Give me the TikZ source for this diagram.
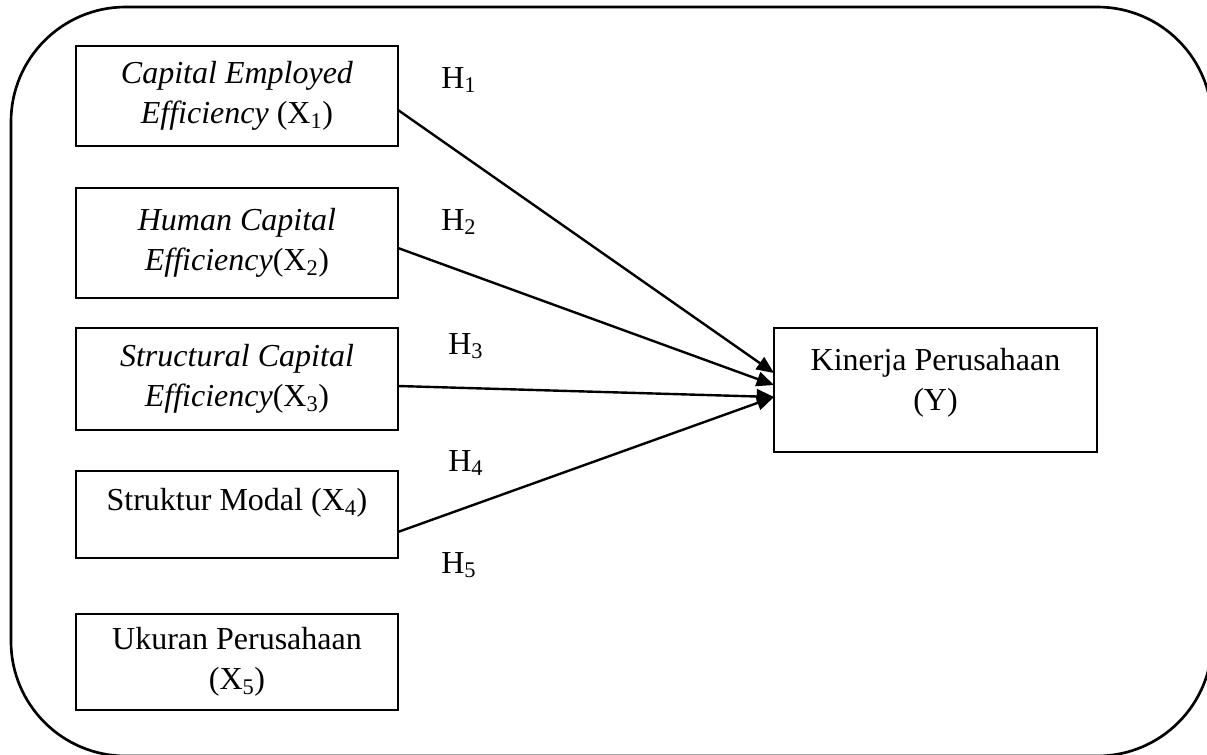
\documentclass[tikz,border=0pt]{standalone}
\usepackage{fontspec}
\setmainfont{Liberation Serif}
\usetikzlibrary{arrows.meta}

\tikzset{every picture/.style={line width=2pt}}
\tikzset{
  varbox/.style={draw, rectangle, inner sep=0pt, outer sep=0pt, minimum width=241.5pt, align=center, font=\fontsize{24}{30}\selectfont},
  boxtext/.style={inner sep=0pt, align=center, font=\fontsize{24}{30}\selectfont},
  hyplabel/.style={anchor=base west, inner sep=0pt, font=\fontsize{24}{30}\selectfont},
  effect/.style={line width=1.8pt, -{Triangle[length=13pt,width=11pt]}}
}

\begin{document}
\begin{tikzpicture}[x=0.75pt,y=0.75pt,yscale=-1,xscale=1]
\useasboundingbox (0,0) rectangle (1207,754);

%Shape: Rounded Rect
\draw [rounded corners=86pt] (11,7) rectangle (1212,756);

%Shape: Rectangle
\node [varbox, minimum height=75pt] (x1) at (237,96) {\textit{Capital Employed}\\\textit{Efficiency} (X\textsubscript{1})};
%Shape: Rectangle
\node [varbox, minimum height=82.5pt] (x2) at (237,243) {\textit{Human Capital}\\\textit{Efficiency}(X\textsubscript{2})};
%Shape: Rectangle
\node [varbox, minimum height=76.5pt] (x3) at (237,379) {\textit{Structural Capital}\\\textit{Efficiency}(X\textsubscript{3})};
%Shape: Rectangle
\node [varbox, minimum height=65.25pt] (x4) at (237,514.5) {};
\node [boxtext] (x4text) at ([yshift=-9pt]x4.center) {Struktur Modal (X\textsubscript{4})};
%Shape: Rectangle
\node [varbox, minimum height=72pt] (x5) at (237,662) {Ukuran Perusahaan\\(X\textsubscript{5})};
%Shape: Rectangle
\node [varbox, minimum width=242.25pt, minimum height=93pt] (y) at (935.5,390) {};
\node [boxtext] (ytext) at ([yshift=-5.5pt]y.center) {Kinerja Perusahaan\\(Y)};

%Straight Lines
\draw [effect] ([yshift=10.5pt]x1.east) -- ([yshift=-12.75pt]y.west);
\draw [effect] ([yshift=3.75pt]x2.east) -- ([yshift=-3.75pt]y.west);
\draw [effect] ([yshift=5.25pt]x3.east) -- ([yshift=5.25pt]y.west);
\draw [effect] ([yshift=13.1pt]x4.east) -- ([yshift=5.25pt]y.west);

% Text Node
\node [hyplabel] (h1) at (440,88) {H\textsubscript{1}};
% Text Node
\node [hyplabel] (h2) at (440,230) {H\textsubscript{2}};
% Text Node
\node [hyplabel] (h3) at (447,354) {H\textsubscript{3}};
% Text Node
\node [hyplabel] (h4) at (447,471) {H\textsubscript{4}};
% Text Node
\node [hyplabel] (h5) at (440,573) {H\textsubscript{5}};

\end{tikzpicture}
\end{document}
